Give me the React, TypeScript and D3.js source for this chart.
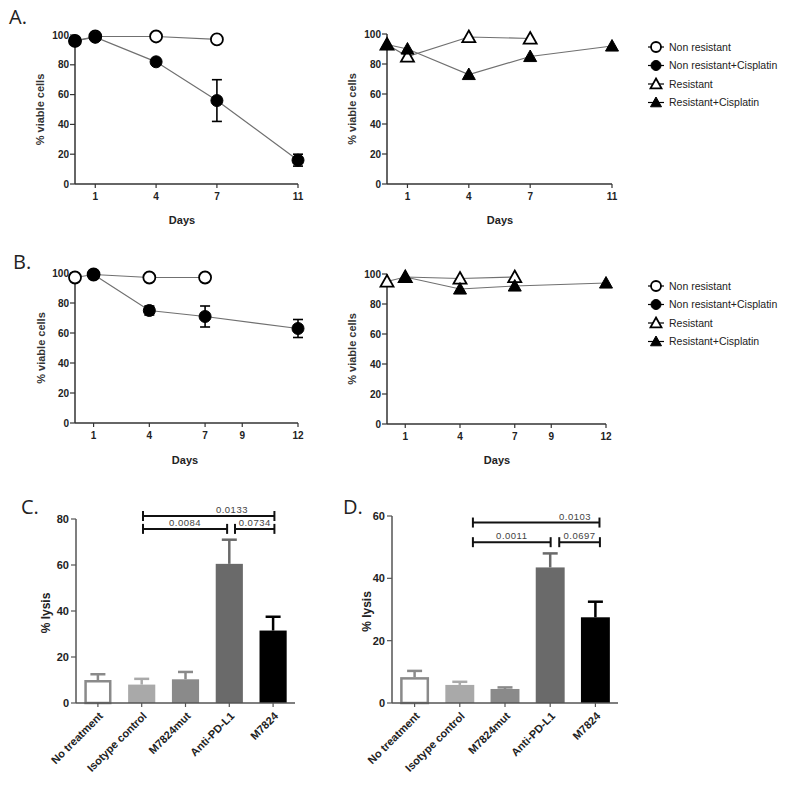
import React from "react";
import * as d3 from "d3";

// ---------- Panel A (line charts) ----------
const aDaysNR = [0, 1, 4, 7];
const aNR = [96, 99, 99, 97];
const aDaysNRC = [0, 1, 4, 7, 11];
const aNRC = [96, 98.5, 82, 56, 16];
const aNRCErr = [0, 0, 1, 14, 4];

const aDaysR = [0, 1, 4, 7];
const aR = [93, 85, 98, 97];
const aDaysRC = [0, 1, 4, 7, 11];
const aRC = [93, 90, 73, 85, 92];

// ---------- Panel B (line charts) ----------
const bDaysNR = [0, 1, 4, 7];
const bNR = [97, 99, 97, 97];
const bDaysNRC = [1, 4, 7, 12];
const bNRC = [99, 75, 71, 63];
const bNRCErr = [0, 3, 7, 6];

const bDaysR = [0, 1, 4, 7];
const bR = [95, 98, 97, 98];
const bDaysRC = [1, 4, 7, 12];
const bRC = [98, 90, 92, 94];

const dayTicksA = [1, 4, 7, 11];
const dayTicksB = [1, 4, 7, 9, 12];
const viableTicks = [0, 20, 40, 60, 80, 100];

const legendLabels = ["Non resistant", "Non resistant+Cisplatin", "Resistant", "Resistant+Cisplatin"];

// ---------- Panels C, D (bar charts) ----------
const categories = ["No treatment", "Isotype control", "M7824mut", "Anti-PD-L1", "M7824"];
const cLysis = [10, 8, 10.3, 60.5, 31.5];
const cErr = [2.5, 2.5, 3.2, 10.5, 6];
const dLysis = [8.3, 5.8, 4.5, 43.5, 27.5];
const dErr = [2, 1, 0.5, 4.5, 5];
const cTicks = [0, 20, 40, 60, 80];
const dTicks = [0, 20, 40, 60];
const barColors = ["#ffffff", "#a9a9a9", "#8a8a8a", "#6a6a6a", "#000000"];
const barStrokes = ["#8a8a8a", "#a9a9a9", "#8a8a8a", "#6a6a6a", "#000000"];

const cBrackets = [
  { from: 1.03, to: 4.03, y: 81.3, label: "0.0133", lx: 3.06 },
  { from: 1.03, to: 2.95, y: 75.7, label: "0.0084", lx: 1.99 },
  { from: 3.13, to: 4.03, y: 75.7, label: "0.0734", lx: 3.58 },
];
const dBrackets = [
  { from: 1.29, to: 4.09, y: 57.9, label: "0.0103", lx: 3.55 },
  { from: 1.29, to: 3.01, y: 51.6, label: "0.0011", lx: 2.15 },
  { from: 3.2, to: 4.1, y: 51.6, label: "0.0697", lx: 3.65 },
];

const FONT = "'Liberation Sans', Arial, sans-serif";
const AXIS = "#333";
const LINE = "#707070";

type Series = { days: number[]; vals: number[]; err?: number[]; shape: "circle" | "triangle"; filled: boolean };

function Marker({ x, y, shape, filled, size = 6 }: { x: number; y: number; shape: string; filled: boolean; size?: number }) {
  if (shape === "circle") {
    return <circle cx={x} cy={y} r={size} fill={filled ? "#000" : "#fff"} stroke="#000" strokeWidth={filled ? 1 : 1.8} />;
  }
  const s = size + 0.5;
  const p = `M${x},${y - s}L${x + s},${y + s * 0.78}L${x - s},${y + s * 0.78}Z`;
  return <path d={p} fill={filled ? "#000" : "#fff"} stroke="#000" strokeWidth={filled ? 1 : 1.8} strokeLinejoin="miter" />;
}

function LineChart({ x0, x1, y0, y1, maxDay, dayTicks, series, title }: {
  x0: number; x1: number; y0: number; y1: number; maxDay: number; dayTicks: number[]; series: Series[]; title: { x: number; dx: number; dy: number };
}) {
  const x = d3.scaleLinear().domain([0, maxDay]).range([x0, x1]);
  const y = d3.scaleLinear().domain([0, 100]).range([y0, y1]);
  const line = d3.line<[number, number]>().x((d) => x(d[0])).y((d) => y(d[1]));
  return (
    <g>
      <line x1={x0} x2={x0} y1={y(0)} y2={y(100)} stroke={AXIS} strokeWidth={1.5} />
      <line x1={x0} x2={x1} y1={y(0)} y2={y(0)} stroke={AXIS} strokeWidth={1.5} />
      {viableTicks.map((t) => (
        <g key={t}>
          <line x1={x0 - 5} x2={x0} y1={y(t)} y2={y(t)} stroke={AXIS} strokeWidth={1.2} />
          <text x={x0 - 6} y={y(t)} dy="0.35em" textAnchor="end" fontSize={10} fontWeight="bold" fontFamily={FONT} fill="#222">{t}</text>
        </g>
      ))}
      {dayTicks.map((t) => (
        <g key={t}>
          <line x1={x(t)} x2={x(t)} y1={y(0)} y2={y(0) + 4} stroke={AXIS} strokeWidth={1.2} />
          <text x={x(t)} y={y(0) + 16} textAnchor="middle" fontSize={10} fontWeight="bold" fontFamily={FONT} fill="#222">{t}</text>
        </g>
      ))}
      <text x={title.dx} y={title.dy} textAnchor="middle" fontSize={11} fontWeight="bold" fontFamily={FONT} fill="#222">Days</text>
      <text transform={`translate(${title.x},${(y(0) + y(100)) / 2}) rotate(-90)`} dy="0.35em" textAnchor="middle" fontSize={11} fontWeight="bold" fontFamily={FONT} fill="#333">% viable cells</text>
      {series.map((s, i) => (
        <path key={"l" + i} d={line(s.days.map((d, j) => [d, s.vals[j]] as [number, number])) || ""} fill="none" stroke={LINE} strokeWidth={1.2} />
      ))}
      {series.map((s, i) =>
        s.err ? s.days.map((d, j) => s.err![j] > 0 ? (
          <g key={"e" + i + "-" + j} stroke="#000" strokeWidth={1.6}>
            <line x1={x(d)} x2={x(d)} y1={y(s.vals[j] - s.err![j])} y2={y(s.vals[j] + s.err![j])} />
            <line x1={x(d) - 5} x2={x(d) + 5} y1={y(s.vals[j] - s.err![j])} y2={y(s.vals[j] - s.err![j])} />
            <line x1={x(d) - 5} x2={x(d) + 5} y1={y(s.vals[j] + s.err![j])} y2={y(s.vals[j] + s.err![j])} />
          </g>
        ) : null) : null
      )}
      {series.map((s, i) => s.days.map((d, j) => (
        <Marker key={"m" + i + "-" + j} x={x(d)} y={y(s.vals[j])} shape={s.shape} filled={s.filled} />
      )))}
    </g>
  );
}

function Legend({ x, y }: { x: number; y: number }) {
  const specs = [
    { shape: "circle", filled: false },
    { shape: "circle", filled: true },
    { shape: "triangle", filled: false },
    { shape: "triangle", filled: true },
  ];
  return (
    <g>
      {legendLabels.map((lab, i) => {
        const yy = y + i * 18.5;
        return (
          <g key={lab}>
            <line x1={x - 8} x2={x + 8} y1={yy} y2={yy} stroke="#000" strokeWidth={1.2} />
            <Marker x={x} y={yy} shape={specs[i].shape} filled={specs[i].filled} size={5} />
            <text x={x + 13} y={yy} dy="0.35em" fontSize={10.5} fontFamily={FONT} fill="#222">{lab}</text>
          </g>
        );
      })}
    </g>
  );
}

function BarChart({ x0, x1, y0, y1, yMax, ticks, vals, errs, brackets, pad, titleX }: {
  x0: number; x1: number; y0: number; y1: number; yMax: number; ticks: number[]; vals: number[]; errs: number[];
  brackets: { from: number; to: number; y: number; label: string; lx: number }[]; pad: number; titleX: number;
}) {
  const xb = d3.scaleBand<string>().domain(categories).range([x0, x1]).paddingInner(pad).paddingOuter(pad / 2);
  const y = d3.scaleLinear().domain([0, yMax]).range([y0, y1]);
  const bw = xb.bandwidth();
  const cx = (c: string) => (xb(c) as number) + bw / 2;
  const xi = d3.scaleLinear().domain([0, categories.length - 1]).range([cx(categories[0]), cx(categories[categories.length - 1])]);
  return (
    <g>
      {categories.map((c, i) => {
        const top = y(vals[i] + errs[i]);
        return (
          <g key={c}>
            <line x1={cx(c)} x2={cx(c)} y1={y(vals[i])} y2={top} stroke={barStrokes[i]} strokeWidth={2.5} />
            <line x1={cx(c) - 7.5} x2={cx(c) + 7.5} y1={top} y2={top} stroke={barStrokes[i]} strokeWidth={2.5} />
            {i === 0 ? (
              <rect x={(xb(c) as number) + 1.25} y={y(vals[i]) + 1.25} width={bw - 2.5} height={y(0) - y(vals[i]) - 1.25} fill={barColors[i]} stroke={barStrokes[i]} strokeWidth={2.5} />
            ) : (
              <rect x={xb(c)} y={y(vals[i])} width={bw} height={y(0) - y(vals[i])} fill={barColors[i]} />
            )}
          </g>
        );
      })}
      <line x1={x0} x2={x0} y1={y(0)} y2={y(yMax)} stroke="#555" strokeWidth={1.5} />
      <line x1={x0} x2={x1} y1={y(0)} y2={y(0)} stroke="#555" strokeWidth={1.5} />
      {ticks.map((t) => (
        <g key={t}>
          <line x1={x0 - 5} x2={x0} y1={y(t)} y2={y(t)} stroke="#555" strokeWidth={1.2} />
          <text x={x0 - 7} y={y(t)} dy="0.35em" textAnchor="end" fontSize={11} fontWeight="bold" fontFamily={FONT} fill="#222">{t}</text>
        </g>
      ))}
      {categories.map((c) => (
        <g key={"t" + c}>
          <line x1={cx(c)} x2={cx(c)} y1={y(0)} y2={y(0) + 4} stroke="#555" strokeWidth={1.2} />
          <text transform={`translate(${cx(c) + 3},${y(0) + 11}) rotate(-45)`} dy="0.35em" textAnchor="end" fontSize={11} fontWeight="bold" fontFamily={FONT} fill="#222">{c}</text>
        </g>
      ))}
      <text transform={`translate(${titleX},${(y(0) + y(yMax)) / 2 + 2}) rotate(-90)`} dy="0.35em" textAnchor="middle" fontSize={12} fontWeight="bold" fontFamily={FONT} fill="#222">% lysis</text>
      {brackets.map((b, i) => (
        <g key={"b" + i}>
          <g stroke="#111" strokeWidth={2}>
            <line x1={xi(b.from)} x2={xi(b.to)} y1={y(b.y)} y2={y(b.y)} />
            <line x1={xi(b.from)} x2={xi(b.from)} y1={y(b.y) - 5} y2={y(b.y) + 5} />
            <line x1={xi(b.to)} x2={xi(b.to)} y1={y(b.y) - 5} y2={y(b.y) + 5} />
          </g>
          <text x={xi(b.lx)} y={y(b.y) - 3} textAnchor="middle" fontSize={9.5} fontFamily={FONT} fill="#444" letterSpacing={0.5}>{b.label}</text>
        </g>
      ))}
    </g>
  );
}

export default function App() {
  return (
    <svg width={800} height={789} style={{ position: "absolute", left: 0, top: 0, background: "#fff" }}>
      <rect width={800} height={789} fill="#fff" />
      <text x={9} y={24} fontSize={20} fontFamily="'Open Sans', sans-serif" fill="#222">A.</text>
      <text x={13} y={269} fontSize={20} fontFamily="'Open Sans', sans-serif" fill="#222">B.</text>
      <text x={21} y={514} fontSize={20} fontFamily="'Open Sans', sans-serif" fill="#222">C.</text>
      <text x={343} y={514} fontSize={20} fontFamily="'Open Sans', sans-serif" fill="#222">D.</text>

      <LineChart x0={75} x1={298} y0={184} y1={35} maxDay={11} dayTicks={dayTicksA}
        title={{ x: 40, dx: 182, dy: 224 }}
        series={[
          { days: aDaysNR, vals: aNR, shape: "circle", filled: false },
          { days: aDaysNRC, vals: aNRC, err: aNRCErr, shape: "circle", filled: true },
        ]} />
      <LineChart x0={387} x1={612} y0={184} y1={34} maxDay={11} dayTicks={dayTicksA}
        title={{ x: 352, dx: 500, dy: 224 }}
        series={[
          { days: aDaysR, vals: aR, shape: "triangle", filled: false },
          { days: aDaysRC, vals: aRC, shape: "triangle", filled: true },
        ]} />
      <Legend x={656} y={47} />

      <LineChart x0={75} x1={298} y0={423} y1={273} maxDay={12} dayTicks={dayTicksB}
        title={{ x: 41, dx: 185, dy: 464 }}
        series={[
          { days: bDaysNR, vals: bNR, shape: "circle", filled: false },
          { days: bDaysNRC, vals: bNRC, err: bNRCErr, shape: "circle", filled: true },
        ]} />
      <LineChart x0={387} x1={606} y0={424} y1={274} maxDay={12} dayTicks={dayTicksB}
        title={{ x: 352, dx: 497, dy: 464 }}
        series={[
          { days: bDaysR, vals: bR, shape: "triangle", filled: false },
          { days: bDaysRC, vals: bRC, shape: "triangle", filled: true },
        ]} />
      <Legend x={656} y={286} />

      <BarChart x0={76} x1={295} y0={703} y1={519} yMax={80} ticks={cTicks} vals={cLysis} errs={cErr}
        brackets={cBrackets} pad={0.38} titleX={46} />
      <BarChart x0={392} x1={618} y0={703} y1={516} yMax={60} ticks={dTicks} vals={dLysis} errs={dErr}
        brackets={dBrackets} pad={0.36} titleX={367} />
    </svg>
  );
}
